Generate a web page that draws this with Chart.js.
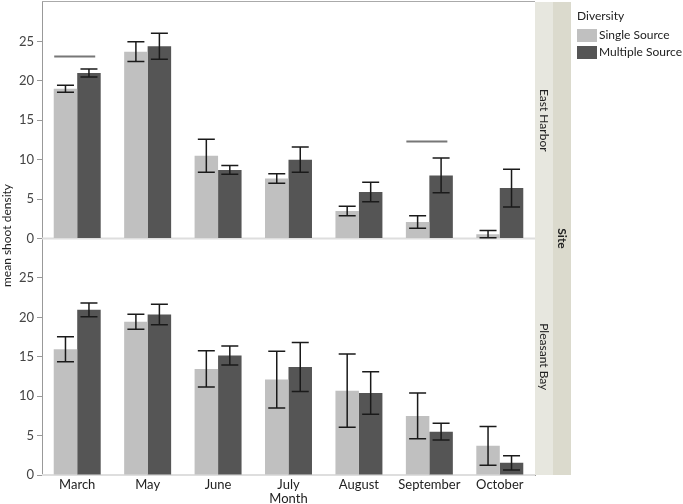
<!DOCTYPE html>
<html>
<head>
<meta charset="utf-8">
<script src="https://cdn.jsdelivr.net/npm/chart.js@4"></script>
<style>
    html, body { margin: 0; padding: 0; background: #ffffff; }
    #wrap { position: relative; width: 683px; height: 504px; }
</style>
</head>
<body>
<div id="wrap"><canvas id="shootChart"></canvas></div>
<script>
// Categories and tick labels
const months = ['March', 'May', 'June', 'July', 'August', 'September', 'October'];
const yTickValues = [0, 5, 10, 15, 20, 25];
const yMax = 30;

// East Harbor (top panel)
const eastSingle = [19.0, 23.7, 10.5, 7.6, 3.5, 2.1, 0.55];
const eastSingleErr = [0.45, 1.25, 2.1, 0.6, 0.6, 0.8, 0.45];
const eastMultiple = [21.0, 24.4, 8.7, 10.0, 5.9, 8.0, 6.4];
const eastMultipleErr = [0.5, 1.65, 0.55, 1.6, 1.25, 2.2, 2.4];

// Pleasant Bay (bottom panel)
const pleasantSingle = [15.95, 19.45, 13.45, 12.1, 10.7, 7.5, 3.7];
const pleasantSingleErr = [1.6, 0.95, 2.3, 3.6, 4.65, 2.9, 2.45];
const pleasantMultiple = [20.95, 20.35, 15.15, 13.7, 10.4, 5.5, 1.55];
const pleasantMultipleErr = [0.87, 1.3, 1.2, 3.1, 2.7, 1.05, 0.9];

// Horizontal marker lines in the East Harbor panel
const eastMarkerMonths = ['March', 'September'];
const eastMarkerValues = [23.1, 12.3];

const siteNames = ['East Harbor', 'Pleasant Bay'];
const diversityNames = ['Single Source', 'Multiple Source'];
const singleColor = '#c0c0c0';
const multipleColor = '#555555';

const fontFamily = "Lato, 'Noto Sans', sans-serif";
Chart.defaults.font.family = fontFamily;
Chart.defaults.font.size = 12;
Chart.defaults.color = '#333333';

// Error bars, zero lines, marker lines, strips and legend
const facetPlugin = {
    id: 'facetPlugin',
    beforeDatasetsDraw(chart) {
        const ctx = chart.ctx;
        const area = chart.chartArea;
        ctx.save();
        // light zero lines in each panel
        ['yTop', 'yBottom'].forEach(id => {
            const y = chart.scales[id].getPixelForValue(0);
            ctx.strokeStyle = '#dedede';
            ctx.lineWidth = 2;
            ctx.beginPath();
            ctx.moveTo(area.left, y);
            ctx.lineTo(area.right, y);
            ctx.stroke();
        });
        // frame line at the top
        ctx.strokeStyle = '#aaaaaa';
        ctx.lineWidth = 1;
        ctx.beginPath();
        ctx.moveTo(area.left, area.top - 0.5);
        ctx.lineTo(area.right, area.top - 0.5);
        ctx.stroke();
        ctx.restore();
    },
    afterDatasetsDraw(chart) {
        const ctx = chart.ctx;
        const area = chart.chartArea;
        const errs = [eastSingleErr, eastMultipleErr, pleasantSingleErr, pleasantMultipleErr];
        ctx.save();

        // error bars
        chart.data.datasets.forEach((ds, di) => {
            const meta = chart.getDatasetMeta(di);
            const yScale = chart.scales[ds.yAxisID];
            meta.data.forEach((bar, i) => {
                const v = ds.data[i];
                const e = errs[di][i];
                const yHi = yScale.getPixelForValue(v + e);
                const yLo = yScale.getPixelForValue(v - e);
                ctx.strokeStyle = '#1a1a1a';
                ctx.lineWidth = 1.5;
                ctx.beginPath();
                ctx.moveTo(bar.x, yHi);
                ctx.lineTo(bar.x, yLo);
                ctx.moveTo(bar.x - 8.5, yHi);
                ctx.lineTo(bar.x + 8.5, yHi);
                ctx.moveTo(bar.x - 8.5, yLo);
                ctx.lineTo(bar.x + 8.5, yLo);
                ctx.stroke();
            });
        });

        // marker lines above selected months
        const x = chart.scales.x;
        eastMarkerMonths.forEach((m, k) => {
            const cx = x.getPixelForValue(months.indexOf(m));
            const y = chart.scales.yTop.getPixelForValue(eastMarkerValues[k]);
            ctx.strokeStyle = '#777777';
            ctx.lineWidth = 2;
            ctx.beginPath();
            ctx.moveTo(cx - 23, y);
            ctx.lineTo(cx + 18, y);
            ctx.stroke();
        });

        // facet strips
        const top = chart.scales.yTop;
        const bottom = chart.scales.yBottom;
        ctx.fillStyle = '#e7e7df';
        ctx.fillRect(area.right, area.top, 18, area.bottom - area.top);
        ctx.fillStyle = '#dbdacd';
        ctx.fillRect(area.right + 18, area.top, 18, area.bottom - area.top);

        ctx.fillStyle = '#222222';
        ctx.font = '12px ' + fontFamily;
        ctx.textAlign = 'center';
        ctx.textBaseline = 'middle';
        [[siteNames[0], top], [siteNames[1], bottom]].forEach(([name, s]) => {
            ctx.save();
            ctx.translate(area.right + 9, (s.top + s.bottom) / 2);
            ctx.rotate(Math.PI / 2);
            ctx.fillText(name, 0, 0);
            ctx.restore();
        });
        ctx.save();
        ctx.font = 'bold 12px ' + fontFamily;
        ctx.translate(area.right + 27, (area.top + area.bottom) / 2);
        ctx.rotate(Math.PI / 2);
        ctx.fillText('Site', 0, 0);
        ctx.restore();

        // y axis title spanning both panels
        ctx.save();
        ctx.font = '12px ' + fontFamily;
        ctx.translate(7, (area.top + area.bottom) / 2 - 3);
        ctx.rotate(-Math.PI / 2);
        ctx.fillText('mean shoot density', 0, 0);
        ctx.restore();

        // legend
        const lx = area.right + 42;
        ctx.textAlign = 'left';
        ctx.font = '12px ' + fontFamily;
        ctx.fillText('Diversity', lx, 16);
        [singleColor, multipleColor].forEach((c, k) => {
            const ly = 29 + k * 17;
            ctx.fillStyle = c;
            ctx.fillRect(lx, ly, 20, 13);
            ctx.fillStyle = '#222222';
            ctx.fillText(diversityNames[k], lx + 22, ly + 6.5);
        });
        ctx.restore();
    }
};

function yAxis(weight) {
    return {
        type: 'linear',
        position: 'left',
        stack: 'site',
        stackWeight: 1,
        weight: weight,
        min: 0,
        max: yMax,
        afterBuildTicks: scale => {
            scale.ticks = yTickValues.map(v => ({ value: v }));
        },
        afterFit: scale => {
            scale.width = 42;
            scale.paddingTop = 0;
            scale.paddingBottom = 0;
        },
        grid: { drawOnChartArea: false, drawTicks: true, tickLength: 5, color: '#999999' },
        border: { display: true, color: '#999999' },
        ticks: { padding: 3, color: '#444444', font: { size: 13 } }
    };
}

const ctx = document.getElementById('shootChart').getContext('2d');
const shootChart = new Chart(ctx, {
    type: 'bar',
    data: {
        labels: months,
        datasets: [
            { label: diversityNames[0], data: eastSingle, yAxisID: 'yTop', stack: 'single', backgroundColor: singleColor },
            { label: diversityNames[1], data: eastMultiple, yAxisID: 'yTop', stack: 'multiple', backgroundColor: multipleColor },
            { label: diversityNames[0], data: pleasantSingle, yAxisID: 'yBottom', stack: 'single', backgroundColor: singleColor },
            { label: diversityNames[1], data: pleasantMultiple, yAxisID: 'yBottom', stack: 'multiple', backgroundColor: multipleColor }
        ]
    },
    options: {
        responsive: true,
        maintainAspectRatio: false,
        animation: false,
        datasets: { bar: { categoryPercentage: 0.667, barPercentage: 1.0, borderWidth: 0 } },
        layout: { padding: { left: 0, right: 148, top: 2, bottom: 0 } },
        scales: {
            x: {
                grid: { display: false, drawTicks: false },
                border: { display: true, color: '#999999' },
                ticks: { padding: 2, color: '#222222', font: { size: 13 }, maxRotation: 0 },
                title: { display: true, text: 'Month', color: '#222222', padding: { top: 0, bottom: -3 }, font: { size: 13 } },
                afterFit: scale => { scale.height = 29; }
            },
            yBottom: yAxis(0),
            yTop: yAxis(1)
        },
        plugins: {
            legend: { display: false },
            tooltip: { enabled: false }
        }
    },
    plugins: [facetPlugin]
});
</script>
</body>
</html>
